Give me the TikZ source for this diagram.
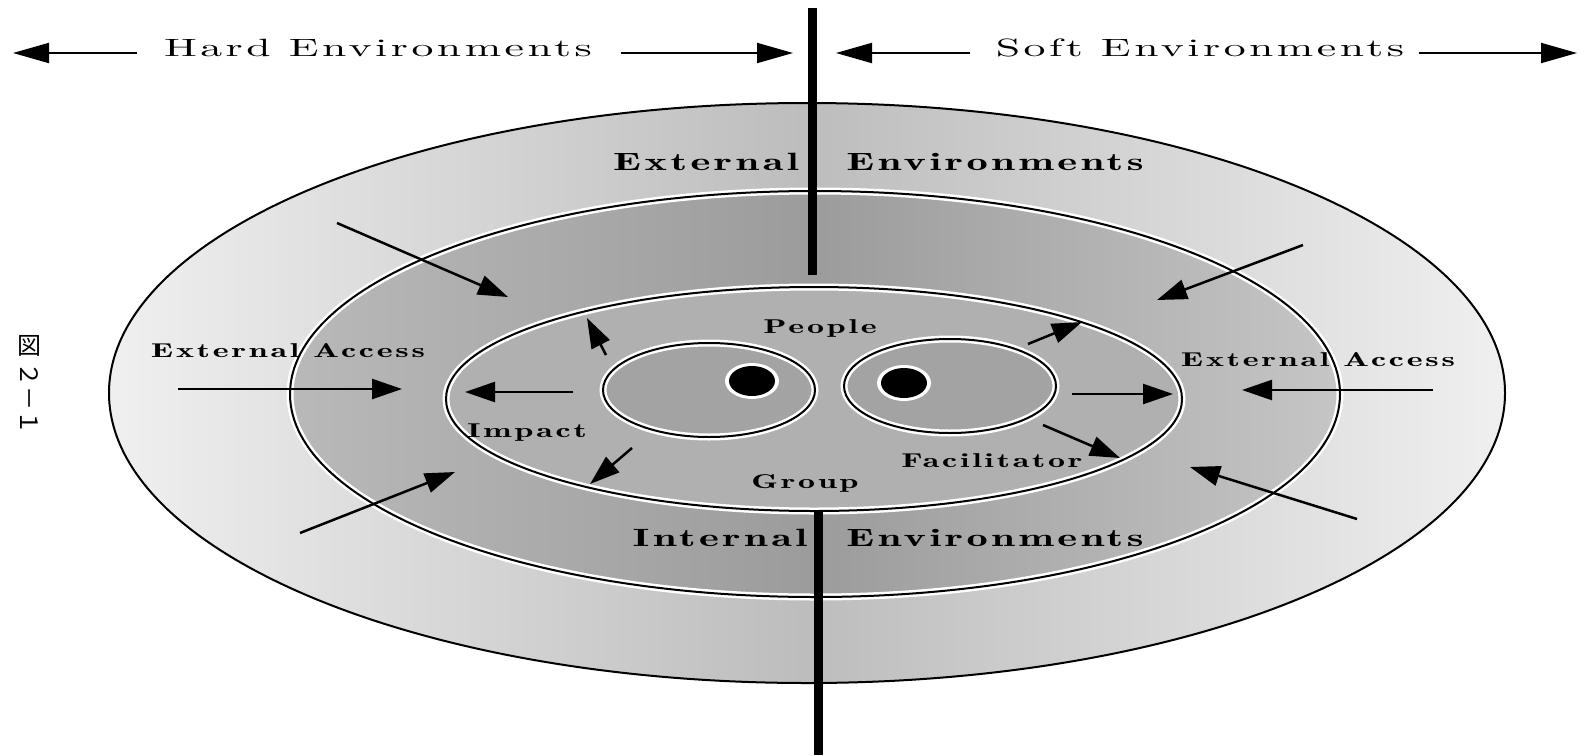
\documentclass[tikz,border=0pt]{standalone}
\usepackage{fontspec}
\newfontfamily\labelfont{lmromandemi10-regular}[Extension=.otf, FakeStretch=1.7, LetterSpace=14]
\newfontfamily\headfont{lmroman10-regular}[Extension=.otf, FakeStretch=1.75, LetterSpace=14]
\newfontfamily\cjkfont{Noto Sans CJK JP}
\usetikzlibrary{arrows.meta}

\begin{document}
\begin{tikzpicture}[
    x=1pt, y=-1pt,
    >={Triangle[length=30pt, width=20pt]}, % big solid arrow heads
    push/.style={->, line width=2.5pt}, % arrows across the rings
    banner/.style={-{Triangle[length=36pt, width=20pt]}, line width=2pt}, % header arrows
    rim/.style={line width=2pt}, % ellipse outlines
    halo/.style={white, line width=7pt}, % white band round an outline
    word/.style={font={\labelfont\fontsize{20}{24}\selectfont}, inner sep=0pt, anchor=base},
    bigword/.style={word, font={\labelfont\fontsize{25}{30}\selectfont}},
    headword/.style={word, font={\headfont\fontsize{25}{30}\selectfont}},
    cjk/.style={font={\cjkfont\fontsize{24}{24}\selectfont}, inner sep=0pt}
]
\useasboundingbox (0,0) rectangle (1584,755);

% Outer ring
\shade[left color=gray!12, right color=gray!12, middle color=gray!52]
    (807,393) ellipse [x radius=698pt, y radius=290pt];
\draw[rim] (807,393) ellipse [x radius=698pt, y radius=290pt];

% Middle ring
\shade[left color=gray!55, right color=gray!45, middle color=gray!78]
    (815,394) ellipse [x radius=525pt, y radius=203pt];
\draw[halo] (815,394) ellipse [x radius=525pt, y radius=203pt];
\draw[rim] (815,394) ellipse [x radius=525pt, y radius=203pt];

% Inner ring
\fill[gray!62] (814,399) ellipse [x radius=368pt, y radius=112pt];
\draw[halo] (814,399) ellipse [x radius=368pt, y radius=112pt];
\draw[rim] (814,399) ellipse [x radius=368pt, y radius=112pt];

% Two cores with their dots
\foreach \cx/\cy/\dx/\dy in {709/390/752/381, 950/386/904/383} {
    \fill[gray!72] (\cx,\cy) ellipse [x radius=106pt, y radius=47pt];
    \draw[halo] (\cx,\cy) ellipse [x radius=106pt, y radius=47pt];
    \draw[rim] (\cx,\cy) ellipse [x radius=106pt, y radius=47pt];
    \fill[white] (\dx,\dy) ellipse [x radius=27pt, y radius=18pt];
    \fill[black] (\dx,\dy) ellipse [x radius=23pt, y radius=15pt];
}

% Dividing bar
\coordinate (barTop) at (812,8);
\coordinate (barMid) at (812,275);
\coordinate (barLow) at (818,511);
\coordinate (barEnd) at (818,755);
\draw[line width=9pt] (barTop) -- (barMid);
\draw[line width=9pt] (barLow) -- (barEnd);

% Arrows from outside into the rings
\coordinate (nwFrom) at (337,223);  \coordinate (nwTo) at (508,297);
\coordinate (wFrom)  at (178,389);  \coordinate (wTo)  at (402,389);
\coordinate (swFrom) at (300,533);  \coordinate (swTo) at (455,472);
\coordinate (neFrom) at (1303,245); \coordinate (neTo) at (1157,300);
\coordinate (eFrom)  at (1433,390); \coordinate (eTo)  at (1242,390);
\coordinate (seFrom) at (1357,519); \coordinate (seTo) at (1190,467);
\foreach \s/\t in {nwFrom/nwTo, wFrom/wTo, swFrom/swTo, neFrom/neTo, eFrom/eTo, seFrom/seTo}
    \draw[push] (\s) -- (\t);

% Arrows from the cores outwards
\coordinate (lUp)   at (606,355);  \coordinate (lUpTo)   at (587,318);
\coordinate (lMid)  at (573,392);  \coordinate (lMidTo)  at (465,392);
\coordinate (lDown) at (632,448);  \coordinate (lDownTo) at (590,484);
\coordinate (rUp)   at (1028,344); \coordinate (rUpTo)   at (1082,322);
\coordinate (rMid)  at (1072,394); \coordinate (rMidTo)  at (1173,394);
\coordinate (rDown) at (1043,425); \coordinate (rDownTo) at (1120,458);
\foreach \s/\t in {lUp/lUpTo, lMid/lMidTo, lDown/lDownTo, rUp/rUpTo, rMid/rMidTo, rDown/rDownTo}
    \draw[push] (\s) -- (\t);

% Header
\node[headword] (hard) at (378,56) {Hard Environments};
\node[headword] (soft) at (1200,56) {Soft Environments};
\coordinate (hardL) at (137,53); \coordinate (hardLTip) at (13,53);
\coordinate (hardR) at (621,53); \coordinate (hardRTip) at (793,53);
\coordinate (softL) at (970,53); \coordinate (softLTip) at (836,53);
\coordinate (softR) at (1419,53); \coordinate (softRTip) at (1577,53);
\draw[banner] (hardL) -- (hardLTip);
\draw[banner] (hardR) -- (hardRTip);
\draw[banner] (softL) -- (softLTip);
\draw[banner] (softR) -- (softRTip);

% Ring labels
\node[bigword] (extA) at (706,170) {External};
\node[bigword] (extB) at (995,170) {Environments};
\node[bigword] (intA) at (720,546) {Internal};
\node[bigword] (intB) at (995,546) {Environments};
\node[word] (accL) at (288,357) {External Access};
\node[word] (accR) at (1318,366) {External Access};
\node[word] (people) at (820,333) {People};
\node[word] (impact) at (527,437) {Impact};
\node[word] (group) at (805,488) {Group};
\node[word] (facil) at (992,467) {Facilitator};

% Figure number, set vertically
\node[cjk] (fig) at (29,346) {図};
\node[cjk, rotate=-90] (figNo) at (29,398) {２－１};

\end{tikzpicture}
\end{document}
